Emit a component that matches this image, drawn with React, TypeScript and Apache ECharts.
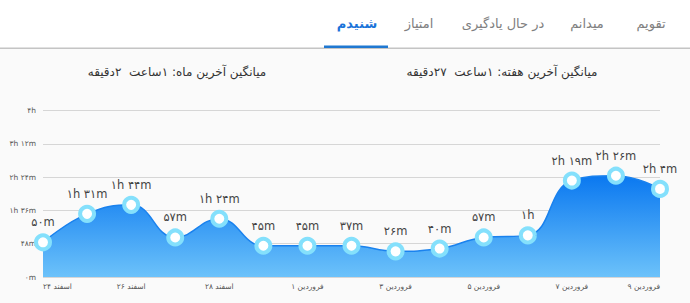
import React, { useEffect, useRef } from "react";
import * as echarts from "echarts";

const categories = [
  "۲۴ اسفند", "۲۵ اسفند", "۲۶ اسفند", "۲۷ اسفند", "۲۸ اسفند", "۲۹ اسفند",
  "۱ فروردین", "۲ فروردین", "۳ فروردین", "۴ فروردین", "۵ فروردین",
  "۶ فروردین", "۷ فروردین", "۸ فروردین", "۹ فروردین",
];
const minutes = [50, 91, 104, 57, 84, 45, 45, 45, 37, 41, 57, 60, 139, 146, 127];
const pointLabels = [
  "۵۰m", "۱h ۳۱m", "۱h ۴۴m", "۵۷m", "۱h ۲۴m", "۴۵m", "۴۵m", "۳۷m",
  "۲۶m", "۴۰m", "۵۷m", "۱h", "۲h ۱۹m", "۲h ۲۶m", "۲h ۴m",
];
const yTickLabels = ["۰m", "۴۸m", "۱h ۳۶m", "۲h ۲۴m", "۳h ۱۲m", "۴h"];
const tabs = ["تقویم", "میدانم", "در حال یادگیری", "امتیاز", "شنیدم"];
const tabX = [651, 587, 503, 419, 357];
const activeTab = 4;
const monthAvg = "میانگین آخرین ماه: ۱ساعت  ۲دقیقه";
const weekAvg = "میانگین آخرین هفته: ۱ساعت  ۲۷دقیقه";

const FONT = "'DejaVu Sans', sans-serif";

export default function App() {
  const ref = useRef<HTMLDivElement>(null);
  useEffect(() => {
    document.body.style.margin = "0";
    const chart = echarts.init(ref.current!, null, { renderer: "svg" });
    const graphics: any[] = [
      { type: "rect", left: 0, top: 0, shape: { width: 690, height: 48 }, style: { fill: "#ffffff" }, silent: true },
      { type: "rect", left: 0, top: 47.5, shape: { width: 690, height: 1.5 }, style: { fill: "#c4c4c4" }, silent: true },
      { type: "rect", left: 324, top: 45.5, shape: { width: 64, height: 2.5 }, style: { fill: "#1f78d1" }, silent: true },
    ];
    tabs.forEach((t, i) => {
      graphics.push({
        type: "text",
        x: tabX[i],
        y: 23,
        style: {
          text: t,
          fill: i === activeTab ? "#1a73d9" : "#808080",
          font: `${i === activeTab ? "bold " : ""}13px ${FONT}`,
          align: "center",
          verticalAlign: "middle",
        },
        silent: true,
      });
    });
    graphics.push({
      type: "text", x: 177, y: 72,
      style: { text: monthAvg, fill: "#333333", font: `12px ${FONT}`, align: "center", verticalAlign: "middle" },
    });
    graphics.push({
      type: "text", x: 502, y: 72,
      style: { text: weekAvg, fill: "#333333", font: `12px ${FONT}`, align: "center", verticalAlign: "middle" },
    });

    chart.setOption({
      animation: false,
      backgroundColor: "#fafafa",
      textStyle: { fontFamily: FONT },
      graphic: graphics,
      grid: { left: 43, right: 30, top: 110.5, bottom: 26 },
      xAxis: {
        type: "category",
        data: categories,
        boundaryGap: false,
        axisLine: { show: false },
        axisTick: { show: false },
        axisLabel: {
          interval: 1,
          fontSize: 7.5,
          color: "#555555",
          margin: 5,
          alignMinLabel: "left",
          alignMaxLabel: "right",
          fontFamily: FONT,
        },
      },
      yAxis: {
        type: "value",
        min: 0,
        max: 240,
        interval: 48,
        axisLine: { show: false },
        axisTick: { show: false },
        splitLine: { lineStyle: { color: "#d6d6d6", width: 1 } },
        axisLabel: {
          fontSize: 7.5,
          color: "#555555",
          margin: 7,
          fontFamily: FONT,
          formatter: (v: number) => yTickLabels[Math.round(v / 48)] ?? "",
        },
      },
      series: [
        {
          type: "line",
          data: minutes,
          smooth: 0.45,
          symbol: "circle",
          symbolSize: 14,
          itemStyle: { color: "#ffffff", borderColor: "#84e0fc", borderWidth: 4 },
          lineStyle: { color: "#1a82ee", width: 1.5 },
          areaStyle: {
            opacity: 1,
            color: new echarts.graphic.LinearGradient(0, 0, 0, 1, [
              { offset: 0, color: "#0a78f0" },
              { offset: 1, color: "#6cc2fa" },
            ]),
          },
          label: {
            show: true,
            position: "top",
            distance: 5,
            color: "#444444",
            fontSize: 11.5,
            fontFamily: FONT,
            formatter: (p: any) => pointLabels[p.dataIndex],
          },
        },
      ],
    });
    return () => chart.dispose();
  }, []);
  return <div ref={ref} style={{ width: 690, height: 303 }} />;
}
